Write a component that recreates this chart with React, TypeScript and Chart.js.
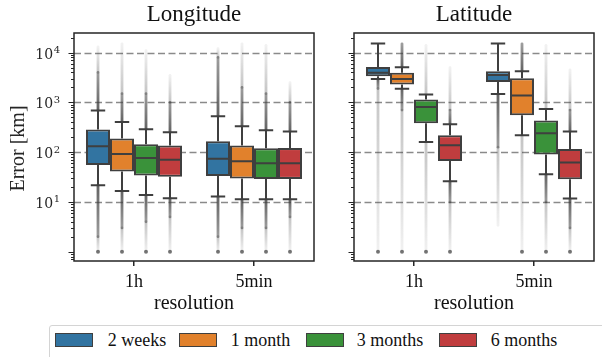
import React, { useEffect, useRef } from "react";
import { Chart, registerables } from "chart.js";
Chart.register(...registerables);

const categories = ["1h", "5min"];
const seriesNames = ["2 weeks", "1 month", "3 months", "6 months"];
const seriesColors = ["#3274a1", "#e1812c", "#3a923a", "#c03d3e"];
const yTickExponents = [1, 2, 3, 4];
const panelTitles = ["Longitude", "Latitude"];

// Box stats per category (1h, 5min): [lower whisker, Q1, median, Q3, upper whisker] in km
const lon2Weeks = [[21.6, 55, 131, 285, 684], [12.8, 33, 74, 166, 526]];
const lon1Month = [[16.6, 41, 92, 188, 403], [11.3, 29.5, 66, 136, 331]];
const lon3Months = [[13.8, 34, 76.6, 144, 288], [11.3, 29, 60, 120, 275]];
const lon6Months = [[11.9, 32, 70, 136, 251], [11.3, 29, 60, 121, 259]];

const lat2Weeks = [[2950, 3340, 3960, 5140, 15200], [1475, 2570, 3550, 4220, 15200]];
const lat1Month = [[1890, 2280, 2950, 3960, 5070], [218, 551, 1370, 3050, 4220]];
const lat3Months = [[160, 380, 809, 1140, 1440], [36, 89.6, 240, 431, 737]];
const lat6Months = [[26, 66.5, 138, 218, 363], [11.7, 28.6, 62, 116, 259]];

// Flier extents per category: [lowest flier, end of dense low fliers, end of dense high fliers, highest flier]
const lon2WeeksFliers = [[1, 2, 4000, 13000], [1, 2, 8000, 12000]];
const lon1MonthFliers = [[1, 3, 1500, 15000], [1, 3, 2000, 15000]];
const lon3MonthsFliers = [[1, 4, 1500, 11000], [1, 3, 1500, 14000]];
const lon6MonthsFliers = [[1, 5, 1000, 3500], [1, 5, 1000, 2500]];

const lat2WeeksFliers = [[1, 1900, 15200, 15200], [3.4, 126, 15200, 15200]];
const lat1MonthFliers = [[1, 700, 15000, 15000], [1, 218, 15000, 15000]];
const lat3MonthsFliers = [[1, 160, 1440, 14000], [1, 10, 737, 14000]];
const lat6MonthsFliers = [[1, 10, 700, 5000], [1, 3, 700, 4500]];

const lonStats = [lon2Weeks, lon1Month, lon3Months, lon6Months];
const latStats = [lat2Weeks, lat1Month, lat3Months, lat6Months];
const lonFliers = [lon2WeeksFliers, lon1MonthFliers, lon3MonthsFliers, lon6MonthsFliers];
const latFliers = [lat2WeeksFliers, lat1MonthFliers, lat3MonthsFliers, lat6MonthsFliers];

const TEXT_FONT = "'Liberation Serif', 'Times New Roman', serif";
const MATH_FONT = "'DejaVu Serif', serif";
const EDGE = "#3f3f3f";
const FRAME = "#262626";
const FLIER = "60,60,60";

function makeBoxPlugin(title: string, stats: number[][][], fliers: number[][][], showY: boolean) {
  return {
    id: "boxplot",
    beforeDatasetsDraw(chart: any) {
      const { ctx, chartArea: a, scales } = chart;
      const y = scales.y;
      ctx.save();
      ctx.beginPath();
      ctx.rect(a.left, a.top, a.right - a.left, a.bottom - a.top);
      ctx.clip();
      // dashed grid
      ctx.strokeStyle = "#8a8a8a";
      ctx.lineWidth = 1.5;
      ctx.setLineDash([7, 3.5]);
      for (const e of yTickExponents) {
        const py = Math.round(y.getPixelForValue(Math.pow(10, e))) + 0.5;
        ctx.beginPath();
        ctx.moveTo(a.left, py);
        ctx.lineTo(a.right, py);
        ctx.stroke();
      }
      ctx.setLineDash([]);
      // fliers
      ctx.lineWidth = 2.8;
      ctx.lineCap = "round";
      stats.forEach((series, i) => {
        const meta = chart.getDatasetMeta(i);
        series.forEach((s, j) => {
          const bar = meta.data[j];
          if (!bar) return;
          const x = bar.x;
          const f = fliers[i][j];
          const segs = [
            [s[0], f[1], f[0]],
            [s[4], f[2], f[3]],
          ];
          segs.forEach(([start, dense, far], k) => {
            const y0 = y.getPixelForValue(start);
            const y1 = y.getPixelForValue(dense);
            const y2 = y.getPixelForValue(far);
            if (Math.abs(y1 - y0) > 0.5) {
              const g0 = ctx.createLinearGradient(0, y0, 0, y1);
              g0.addColorStop(0, `rgba(${FLIER},0.8)`);
              g0.addColorStop(1, `rgba(${FLIER},0.5)`);
              ctx.strokeStyle = g0;
              ctx.beginPath();
              ctx.moveTo(x, y0);
              ctx.lineTo(x, y1);
              ctx.stroke();
            }
            if (Math.abs(y2 - y1) > 0.5) {
              const g = ctx.createLinearGradient(0, y1, 0, y2);
              g.addColorStop(0, `rgba(${FLIER},0.3)`);
              g.addColorStop(1, `rgba(${FLIER},0.07)`);
              ctx.strokeStyle = g;
              ctx.beginPath();
              ctx.moveTo(x, y1);
              ctx.lineTo(x, y2);
              ctx.stroke();
            }
            if (k === 0 && far <= 1.01 && Math.abs(y2 - y0) > 0.5) {
              ctx.fillStyle = `rgba(${FLIER},0.7)`;
              ctx.beginPath();
              ctx.arc(x, y2, 2, 0, Math.PI * 2);
              ctx.fill();
            }
          });
        });
      });
      ctx.restore();
    },
    afterDatasetsDraw(chart: any) {
      const { ctx, scales } = chart;
      const y = scales.y;
      ctx.save();
      ctx.strokeStyle = EDGE;
      ctx.lineWidth = 2;
      ctx.lineCap = "butt";
      stats.forEach((series, i) => {
        const meta = chart.getDatasetMeta(i);
        series.forEach((s, j) => {
          const bar = meta.data[j];
          if (!bar) return;
          const x = bar.x;
          const w = bar.width;
          const pLow = y.getPixelForValue(s[0]);
          const pQ1 = y.getPixelForValue(s[1]);
          const pMed = y.getPixelForValue(s[2]);
          const pQ3 = y.getPixelForValue(s[3]);
          const pHigh = y.getPixelForValue(s[4]);
          const cap = w * 0.3;
          ctx.beginPath();
          ctx.moveTo(x, pQ1);
          ctx.lineTo(x, pLow);
          ctx.moveTo(x, pQ3);
          ctx.lineTo(x, pHigh);
          ctx.moveTo(x - cap, pLow);
          ctx.lineTo(x + cap, pLow);
          ctx.moveTo(x - cap, pHigh);
          ctx.lineTo(x + cap, pHigh);
          ctx.moveTo(x - w / 2 + 1, pMed);
          ctx.lineTo(x + w / 2 - 1, pMed);
          ctx.stroke();
        });
      });
      ctx.restore();
    },
    afterDraw(chart: any) {
      const { ctx, chartArea: a, scales } = chart;
      const y = scales.y;
      ctx.save();
      // frame
      ctx.strokeStyle = FRAME;
      ctx.lineWidth = 1.5;
      ctx.strokeRect(a.left, a.top, a.right - a.left, a.bottom - a.top);
      // y ticks (major + minor)
      ctx.lineWidth = 1.2;
      ctx.beginPath();
      for (let e = -1; e <= 4; e++) {
        for (let m = 1; m <= 9; m++) {
          const v = m * Math.pow(10, e);
          if (v < y.min || v > y.max) continue;
          const py = Math.round(y.getPixelForValue(v)) + 0.5;
          const len = m === 1 ? 5.5 : 3;
          ctx.moveTo(a.left, py);
          ctx.lineTo(a.left - len, py);
        }
      }
      ctx.stroke();
      // y tick labels
      ctx.fillStyle = FRAME;
      if (showY) {
        for (const e of yTickExponents) {
          const py = y.getPixelForValue(Math.pow(10, e));
          ctx.textAlign = "right";
          ctx.textBaseline = "alphabetic";
          ctx.font = `10px ${MATH_FONT}`;
          const expStr = String(e);
          const expW = ctx.measureText(expStr).width;
          const xr = a.left - 14;
          ctx.fillText(expStr, xr, py + 0.5);
          ctx.font = `14px ${MATH_FONT}`;
          ctx.fillText("10", xr - expW - 0.5, py + 6);
        }
        ctx.save();
        ctx.translate(24, (a.top + a.bottom) / 2 + 1.5);
        ctx.rotate(-Math.PI / 2);
        ctx.textAlign = "center";
        ctx.textBaseline = "alphabetic";
        ctx.font = `20px ${TEXT_FONT}`;
        ctx.fillText("Error [km]", 0, 0);
        ctx.restore();
      }
      // panel title
      ctx.textAlign = "center";
      ctx.textBaseline = "alphabetic";
      ctx.font = `23px ${TEXT_FONT}`;
      ctx.fillStyle = "#111";
      ctx.fillText(title, (a.left + a.right) / 2, 20.7);
      ctx.restore();
    },
  };
}

function makeConfig(title: string, stats: number[][][], fliers: number[][][], showY: boolean, yWidth: number, rightPad: number) {
  return {
    type: "bar" as const,
    data: {
      labels: categories,
      datasets: seriesNames.map((name, i) => ({
        label: name,
        data: stats[i].map((s) => [s[1], s[3]]),
        backgroundColor: seriesColors[i],
        borderColor: EDGE,
        borderWidth: 2,
        borderSkipped: false,
        categoryPercentage: 0.8,
        barPercentage: 1,
      })),
    },
    options: {
      responsive: false,
      animation: false,
      devicePixelRatio: 1,
      layout: { padding: { top: 33, right: rightPad, left: 0, bottom: 0 } },
      plugins: {
        legend: { display: false },
        tooltip: { enabled: false },
        title: { display: false },
      },
      scales: {
        x: {
          type: "category",
          offset: true,
          grid: {
            display: true,
            drawOnChartArea: false,
            offset: false,
            tickLength: 5,
            color: FRAME,
            lineWidth: 1.5,
          },
          border: { display: false },
          ticks: { font: { family: TEXT_FONT, size: 18 }, color: "#111", padding: 5 },
          title: {
            display: true,
            text: "resolution",
            font: { family: TEXT_FONT, size: 20 },
            color: "#111",
            padding: { top: 2, bottom: 4 },
          },
          afterFit: (s: any) => {
            s.height = 59;
          },
        },
        y: {
          type: "logarithmic",
          min: 0.65,
          max: 24800,
          ticks: { display: false },
          grid: { display: false },
          border: { display: false },
          afterFit: (s: any) => {
            s.width = yWidth;
          },
        },
      },
    },
    plugins: [makeBoxPlugin(title, stats, fliers, showY)],
  };
}

export default function App() {
  const leftRef = useRef<HTMLCanvasElement>(null);
  const rightRef = useRef<HTMLCanvasElement>(null);

  useEffect(() => {
    const c1 = new Chart(leftRef.current as HTMLCanvasElement, makeConfig(panelTitles[0], lonStats, lonFliers, true, 74, 6) as any);
    const c2 = new Chart(rightRef.current as HTMLCanvasElement, makeConfig(panelTitles[1], latStats, latFliers, false, 34, 8) as any);
    return () => {
      c1.destroy();
      c2.destroy();
    };
  }, []);

  const swatchX = [55, 179.3, 305.7, 439];
  const textX = [107.7, 230.7, 356.7, 490.7];

  return (
    <div style={{ position: "fixed", left: 0, top: 0, width: 602, height: 357, background: "#fff", overflow: "hidden" }}>
      <canvas ref={leftRef} width={320} height={320} style={{ position: "absolute", left: 0, top: 0, width: 320, height: 320 }} />
      <canvas ref={rightRef} width={282} height={320} style={{ position: "absolute", left: 320, top: 0, width: 282, height: 320 }} />
      <div
        style={{
          position: "absolute",
          left: 49,
          top: 325,
          width: 580,
          height: 50,
          border: "1px solid #d4d4d4",
          borderRadius: 3,
          boxSizing: "border-box",
        }}
      />
      {seriesNames.map((name, i) => (
        <React.Fragment key={name}>
          <div
            style={{
              position: "absolute",
              left: swatchX[i],
              top: 332.7,
              width: 38,
              height: 14,
              background: seriesColors[i],
              border: `1.5px solid ${EDGE}`,
              boxSizing: "border-box",
            }}
          />
          <div
            style={{
              position: "absolute",
              left: textX[i],
              top: 331,
              fontFamily: TEXT_FONT,
              fontSize: 18,
              lineHeight: "18px",
              color: "#111",
              whiteSpace: "nowrap",
            }}
          >
            {name}
          </div>
        </React.Fragment>
      ))}
    </div>
  );
}
